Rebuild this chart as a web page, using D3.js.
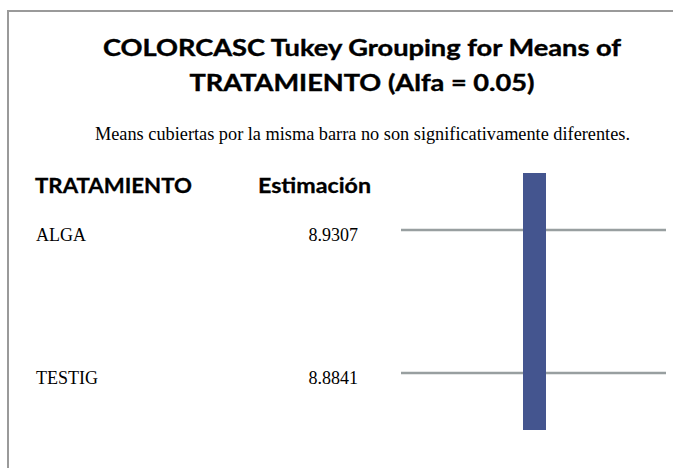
<!DOCTYPE html>
<html><head><meta charset="utf-8">
<script src="https://cdn.jsdelivr.net/npm/d3@7"></script>
<style>body{margin:0;background:#fff}svg{display:block}</style>
</head><body>
<script>
const treatments = ["ALGA", "TESTIG"];
const estimates = ["8.9307", "8.8841"];
const groupLetters = ["A", "A"];
const headers = ["TRATAMIENTO", "Estimación"];
const titleLines = ["COLORCASC Tukey Grouping for Means of", "TRATAMIENTO (Alfa = 0.05)"];
const subtitle = "Means cubiertas por la misma barra no son significativamente diferentes.";

const W = 673, H = 468;
const svg = d3.select("body").append("svg").attr("width", W).attr("height", H);

// frame
svg.append("path").attr("d", `M8,${H} L8,11 L${W},11`)
  .attr("fill", "none").attr("stroke", "#9a9a9a").attr("stroke-width", 2);

// title
svg.selectAll("text.title").data(titleLines).join("text")
  .attr("class", "title")
  .attr("x", 362).attr("y", (d, i) => 56 + i * 35)
  .attr("text-anchor", "middle")
  .attr("font-family", "Lato, 'Open Sans', sans-serif")
  .attr("font-weight", "bold").attr("font-size", 23.5)
  .attr("stroke", "#000").attr("stroke-width", 0.4)
  .attr("textLength", (d, i) => i === 0 ? 518 : 345)
  .attr("lengthAdjust", "spacingAndGlyphs")
  .text(d => d);

svg.append("text").attr("x", 95).attr("y", 140)
  .attr("font-family", "'Liberation Serif', 'Times New Roman', serif")
  .attr("font-size", 18.5).attr("textLength", 535).attr("lengthAdjust", "spacingAndGlyphs")
  .text(subtitle);

// headers
const hdr = svg.append("g").attr("font-family", "Lato, 'Open Sans', sans-serif")
  .attr("font-weight", "bold").attr("font-size", 20.5)
  .attr("stroke", "#000").attr("stroke-width", 0.3);
hdr.append("text").attr("x", 35).attr("y", 193).attr("textLength", 157).attr("lengthAdjust", "spacingAndGlyphs").text(headers[0]);
hdr.append("text").attr("x", 258).attr("y", 193).attr("textLength", 113).attr("lengthAdjust", "spacingAndGlyphs").text(headers[1]);

// scales
const y = d3.scalePoint().domain(treatments).range([230, 373]);
const groups = Array.from(new Set(groupLetters));
const xg = d3.scaleBand().domain(groups).range([523, 546]).padding(0);

// rows
const rows = svg.selectAll("g.row").data(treatments).join("g").attr("class", "row")
  .attr("transform", d => `translate(0,${y(d)})`);
rows.append("line").attr("x1", 401).attr("x2", 666).attr("y1", 0).attr("y2", 0)
  .attr("stroke", "#989fa0").attr("stroke-width", 2.5);
rows.append("text").attr("x", 36).attr("y", 11)
  .attr("font-family", "'Liberation Serif', 'Times New Roman', serif").attr("font-size", 18)
  .text(d => d);
rows.append("text").attr("x", 358).attr("y", 11).attr("text-anchor", "end")
  .attr("font-family", "'Liberation Serif', 'Times New Roman', serif").attr("font-size", 18)
  .text((d, i) => estimates[i]);

// group bars
const pad = 57;
groups.forEach(g => {
  const members = treatments.filter((t, i) => groupLetters[i] === g);
  const ys = members.map(m => y(m));
  svg.append("rect")
    .attr("x", xg(g)).attr("width", xg.bandwidth())
    .attr("y", d3.min(ys) - pad).attr("height", d3.max(ys) - d3.min(ys) + 2 * pad)
    .attr("fill", "#44558f");
});
</script>
</body></html>
